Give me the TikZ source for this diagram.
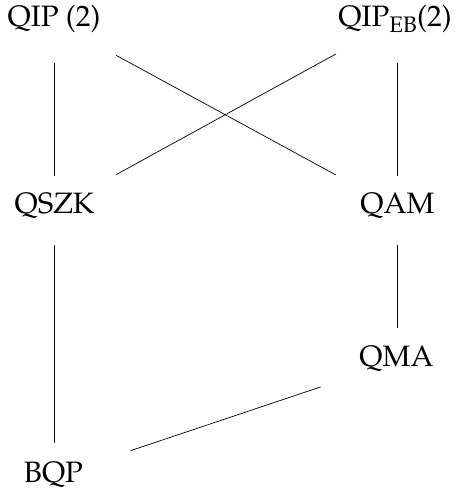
\documentclass[tikz,border=0pt]{standalone}
\usepackage[T1]{fontenc}
\usepackage{mathpazo}
\begin{document}
\begin{tikzpicture}[x=1pt,y=-1pt,
  cls/.style={inner sep=0pt,font=\fontsize{29.5}{36}\selectfont,text height=1.2em,text depth=0.13em},
  low/.style={text height=1.4em},
  link/.style={line width=0.7pt,black}]
\useasboundingbox (0,0) rectangle (456,488);
\node[cls] (qip) at (54,21.5) {QIP (2)};
\node[cls] (qipeb) at (395,21.5) {QIP\textsubscript{EB}(2)};
\node[cls] (qszk) at (54.5,208.5) {QSZK};
\node[cls] (qam) at (397.5,208.5) {QAM};
\node[cls] (qma) at (396.5,361.5) {QMA};
\node[cls,low] (bqp) at (53.5,476.5) {BQP};
\draw[link,shorten <=41.5pt,shorten >=32.5pt] (qip.center -| qszk.center) -- (qszk.center);
\draw[link,shorten <=70.9pt,shorten >=70.4pt] (qip.center) -- (qam.center);
\draw[link,shorten <=67.4pt,shorten >=70.4pt] (qipeb.center) -- (qszk.center);
\draw[link,shorten <=41.5pt,shorten >=32.5pt] (qipeb.center -| qam.center) -- (qam.center);
\draw[link,shorten <=36.5pt,shorten >=33.5pt] (qszk.center) -- (qszk.center |- bqp.center);
\draw[link,shorten <=36.5pt,shorten >=33.5pt] (qam.center) -- (qam.center |- qma.center);
\draw[link,shorten <=80pt,shorten >=81.3pt] (qma.center) -- (bqp.center);
\end{tikzpicture}
\end{document}
